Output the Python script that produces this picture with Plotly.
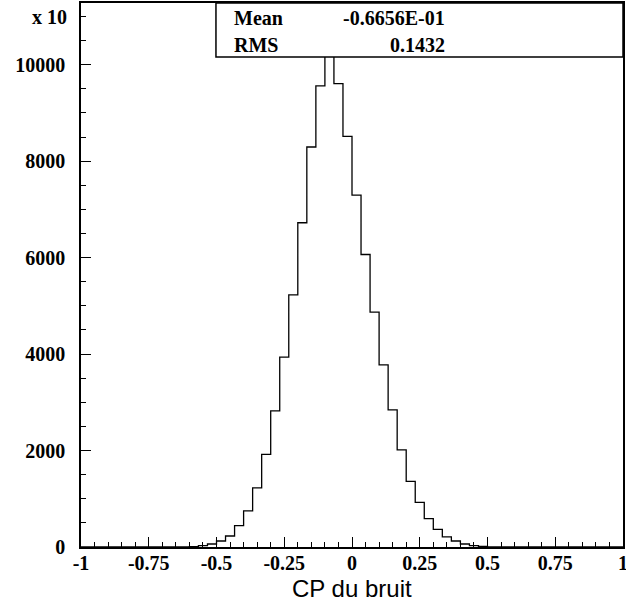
import plotly.graph_objects as go

# 60 bins from -1 to 1 (width 1/30); counts (axis is "x 10")
x_min, x_max, n_bins = -1.0, 1.0, 60
counts = [
    0, 0, 0, 0, 0, 0, 0, 0, 0, 0,
    0, 0, 8, 27, 62, 124, 228, 442, 747, 1224,
    1920, 2822, 3936, 5229, 6723, 8294, 9560, 10450, 9607, 8514,
    7298, 6065, 4870, 3777, 2843, 2013, 1361, 925, 587, 365,
    208, 124, 62, 27, 10, 0, 0, 0, 0, 0,
    0, 0, 0, 0, 0, 0, 0, 0, 0, 0,
]
x_ticks = [-1, -0.75, -0.5, -0.25, 0, 0.25, 0.5, 0.75, 1]
x_labels = ["-1", "-0.75", "-0.5", "-0.25", "0", "0.25", "0.5", "0.75", "1"]
y_ticks = [0, 2000, 4000, 6000, 8000, 10000]
y_labels = ["0", "2000", "4000", "6000", "8000", "10000"]
stats = [("Mean", "-0.6656E-01"), ("RMS", "0.1432")]

width = (x_max - x_min) / n_bins
edges = [x_min + i * width for i in range(n_bins + 1)]
step_y = counts + [counts[-1]]

SERIF = dict(family="Liberation Serif, Times New Roman, serif", size=20,
             color="black", weight="bold")

fig = go.Figure(go.Scatter(
    x=edges, y=step_y, mode="lines", line_shape="hv",
    line=dict(color="black", width=1.3), hoverinfo="skip",
))

axis_common = dict(
    showgrid=False, zeroline=False, showline=True, linecolor="black",
    linewidth=1.5, mirror=True, ticks="inside", ticklen=10, tickwidth=1,
    tickcolor="black", tickfont=SERIF, automargin=False,
    ticklabeloverflow="allow",
)
fig.update_layout(
    width=626, height=605,
    margin=dict(l=81, r=3, t=3, b=58),
    paper_bgcolor="white", plot_bgcolor="white",
    showlegend=False,
    xaxis=dict(range=[x_min, x_max], tickvals=x_ticks, ticktext=x_labels,
               ticklabelstandoff=-3,
               minor=dict(dtick=0.05, ticklen=5, ticks="inside",
                          tickcolor="black", tickwidth=1),
               **axis_common),
    yaxis=dict(range=[0, 11280], tickvals=y_ticks, ticktext=y_labels,
               ticklabelstandoff=10,
               minor=dict(dtick=500, ticklen=5, ticks="inside",
                          tickcolor="black", tickwidth=1),
               **axis_common),
)

# multiplier label above the top tick
fig.add_annotation(x=0, xref="paper", xanchor="right", xshift=-12,
                   y=11000, yref="y", yanchor="middle", text="x 10",
                   showarrow=False, font=SERIF)

# statistics box
box_top, box_bottom = 1.0, 0.9007
fig.add_shape(type="rect", xref="paper", yref="paper",
              x0=0.249, x1=1.0, y0=box_bottom, y1=box_top,
              line=dict(color="black", width=1.5), fillcolor="white",
              layer="above")
for i, (name, val) in enumerate(stats):
    yy = 0.973 - i * 0.0506
    fig.add_annotation(x=0.2786, y=yy, xref="paper", yref="paper",
                       xanchor="left", yanchor="middle", text=name,
                       showarrow=False, font=SERIF)
    fig.add_annotation(x=0.6744, y=yy, xref="paper", yref="paper",
                       xanchor="right", yanchor="middle", text=val,
                       showarrow=False, font=SERIF)

fig.add_annotation(x=0.5, y=-0.0767, xref="paper", yref="paper",
                   xanchor="center", yanchor="middle", text="CP du bruit",
                   showarrow=False,
                   font=dict(family="Liberation Sans, Arial, sans-serif",
                             size=24, color="black"))

# page body has an 8px default margin; drop it so the figure sits at 0,0
fig.write_html("out.html", config={"displayModeBar": False},
               post_script="document.body.style.margin='0';")
